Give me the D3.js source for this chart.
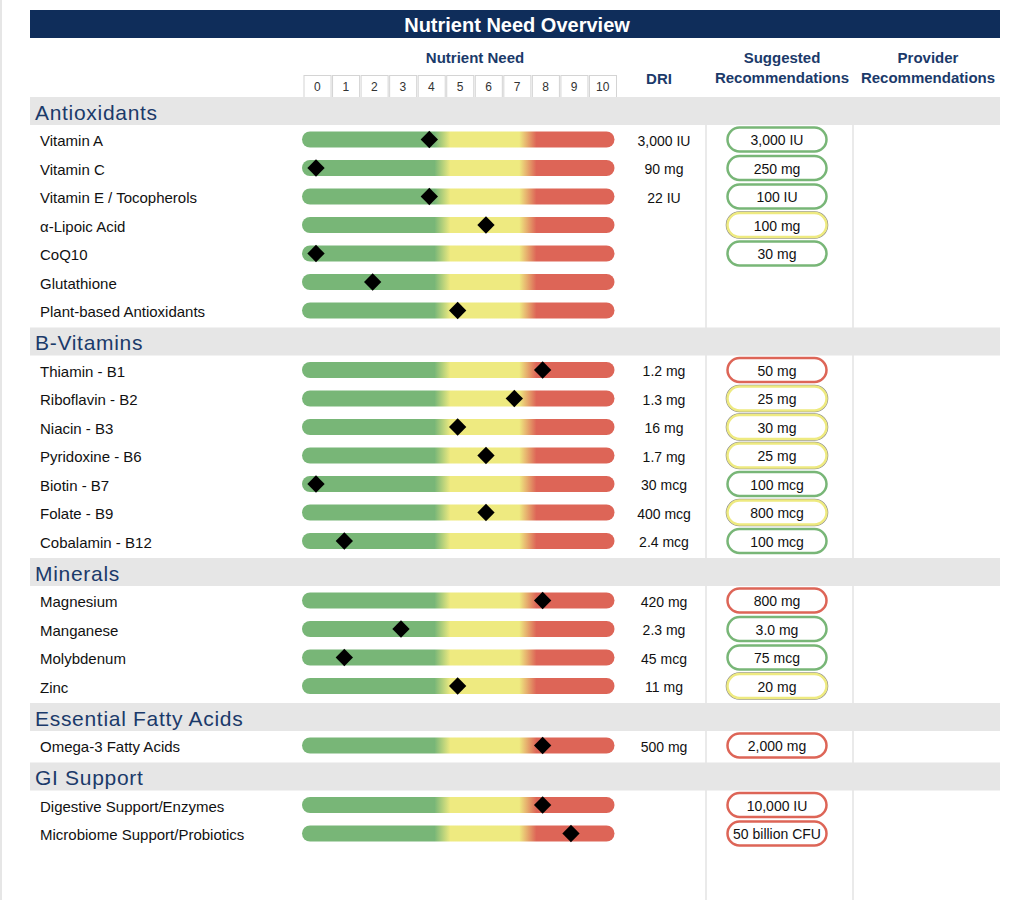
<!DOCTYPE html>
<html>
<head>
<meta charset="utf-8">
<script src="https://cdn.jsdelivr.net/npm/d3@7"></script>
<style>
  body { margin: 0; background: #fff; }
  text { font-family: Helvetica, Arial, "Liberation Sans", sans-serif; }
</style>
</head>
<body>
<div id="chart"></div>
<script>
// ---- data ----
var sections = ["Antioxidants", "B-Vitamins", "Minerals", "Essential Fatty Acids", "GI Support"];
var sectionCounts = [7, 7, 4, 1, 2];

var nutrients = [
  "Vitamin A", "Vitamin C", "Vitamin E / Tocopherols", "\u03b1-Lipoic Acid", "CoQ10", "Glutathione", "Plant-based Antioxidants",
  "Thiamin - B1", "Riboflavin - B2", "Niacin - B3", "Pyridoxine - B6", "Biotin - B7", "Folate - B9", "Cobalamin - B12",
  "Magnesium", "Manganese", "Molybdenum", "Zinc",
  "Omega-3 Fatty Acids",
  "Digestive Support/Enzymes", "Microbiome Support/Probiotics"
];
var needs = [4, 0, 4, 6, 0, 2, 5,
             8, 7, 5, 6, 0, 6, 1,
             8, 3, 1, 5,
             8,
             8, 9];
var dri = ["3,000 IU", "90 mg", "22 IU", "", "", "", "",
           "1.2 mg", "1.3 mg", "16 mg", "1.7 mg", "30 mcg", "400 mcg", "2.4 mcg",
           "420 mg", "2.3 mg", "45 mcg", "11 mg",
           "500 mg",
           "", ""];
var suggested = ["3,000 IU", "250 mg", "100 IU", "100 mg", "30 mg", "", "",
                 "50 mg", "25 mg", "30 mg", "25 mg", "100 mcg", "800 mcg", "100 mcg",
                 "800 mg", "3.0 mg", "75 mcg", "20 mg",
                 "2,000 mg",
                 "10,000 IU", "50 billion CFU"];
var scaleTicks = d3.range(0, 11);

// ---- layout ----
var W = 1024, H = 900;
var navy = "#0f2d5a", headNavy = "#1b3a6a", band = "#e6e6e6";
var green = "#78b677", yellow = "#eeea80", red = "#dd6557";

var svg = d3.select("#chart").append("svg")
  .attr("width", W).attr("height", H);

// left page edge
svg.append("line").attr("x1", 1).attr("x2", 1).attr("y1", 0).attr("y2", H)
  .attr("stroke", "#dedede").attr("stroke-width", 1.5);

// title bar
svg.append("rect").attr("x", 30).attr("y", 10).attr("width", 970).attr("height", 28).attr("fill", navy);
svg.append("text").attr("x", 517).attr("y", 25).attr("text-anchor", "middle")
  .attr("dominant-baseline", "central").attr("fill", "#fff")
  .attr("font-size", 20).attr("font-weight", "bold").text("Nutrient Need Overview");

// column headers
function header(x, y, t) {
  svg.append("text").attr("x", x).attr("y", y).attr("text-anchor", "middle")
    .attr("dominant-baseline", "central").attr("fill", headNavy)
    .attr("font-size", 15).attr("font-weight", "bold").text(t);
}
header(475, 57, "Nutrient Need");
header(659, 78, "DRI");
header(782, 57, "Suggested");
header(782, 77, "Recommendations");
header(928, 57, "Provider");
header(928, 77, "Recommendations");

// scale cells
var cellX = d3.scaleBand().domain(scaleTicks).range([303, 617]);
var cells = svg.append("g").selectAll("g").data(scaleTicks).enter().append("g");
cells.append("rect")
  .attr("x", function (d) { return cellX(d) + 1; })
  .attr("y", 75.5)
  .attr("width", cellX.bandwidth() - 1.5)
  .attr("height", 22)
  .attr("fill", "#fff").attr("stroke", "#d4d4d4").attr("stroke-width", 1);
cells.append("text")
  .attr("x", function (d) { return cellX(d) + cellX.bandwidth() / 2; })
  .attr("y", 87).attr("text-anchor", "middle").attr("dominant-baseline", "central")
  .attr("font-size", 12).attr("fill", "#333")
  .text(function (d) { return d; });

// vertical column dividers
[706, 853].forEach(function (x) {
  svg.append("line").attr("x1", x).attr("x2", x).attr("y1", 125).attr("y2", H)
    .attr("stroke", "#e3e3e3").attr("stroke-width", 1.5);
});

// compute row positions
var bandH = 28, padTop = 14.5, padBottom = 17, step = 28.5;
var bandTops = [], rowY = [];
var y = 97, idx = 0;
sectionCounts.forEach(function (n) {
  bandTops.push(y);
  for (var i = 0; i < n; i++) {
    rowY[idx++] = y + bandH + padTop + i * step;
  }
  y = y + bandH + padTop + (n - 1) * step + padBottom;
});

// section bands
var bands = svg.append("g").selectAll("g").data(sections).enter().append("g");
bands.append("rect")
  .attr("x", 30).attr("width", 970).attr("height", bandH)
  .attr("y", function (d, i) { return bandTops[i]; })
  .attr("fill", band);
bands.append("text")
  .attr("x", 35)
  .attr("y", function (d, i) { return bandTops[i] + bandH / 2 + 1; })
  .attr("dominant-baseline", "central")
  .attr("font-size", 21).attr("letter-spacing", 0.7).attr("fill", headNavy)
  .text(function (d) { return d; });

// gradient for the need bars
var barX0 = 302, barX1 = 614.5;
var grad = svg.append("defs").append("linearGradient")
  .attr("id", "needGrad").attr("gradientUnits", "userSpaceOnUse")
  .attr("x1", barX0).attr("x2", barX1).attr("y1", 0).attr("y2", 0);
[[0, green], [0.424, green], [0.475, yellow], [0.695, yellow], [0.75, red], [1, red]]
  .forEach(function (s) {
    grad.append("stop").attr("offset", s[0]).attr("stop-color", s[1]);
  });

var x = d3.scaleLinear().domain([0, 10]).range([316, 599.3]);
var pillColor = d3.scaleThreshold().domain([5, 8]).range([green, yellow, red]);

var rows = svg.append("g").selectAll("g").data(nutrients).enter().append("g")
  .attr("transform", function (d, i) { return "translate(0," + rowY[i] + ")"; });

rows.append("text")
  .attr("x", 40).attr("y", 1).attr("dominant-baseline", "central")
  .attr("font-size", 15).attr("fill", "#111")
  .text(function (d) { return d; });

rows.append("rect")
  .attr("x", barX0).attr("y", -8).attr("width", barX1 - barX0).attr("height", 16)
  .attr("rx", 8).attr("fill", "url(#needGrad)");

rows.append("path")
  .attr("d", d3.symbol(d3.symbolSquare, 150))
  .attr("transform", function (d, i) { return "translate(" + x(needs[i]) + ",0) rotate(45)"; })
  .attr("fill", "#000");

rows.append("text")
  .attr("x", 664).attr("y", 1).attr("text-anchor", "middle").attr("dominant-baseline", "central")
  .attr("font-size", 14).attr("fill", "#111")
  .text(function (d, i) { return dri[i]; });

// suggested pills
var pills = rows.filter(function (d, i) { return suggested[i] !== ""; });
pills.filter(function (d) { return pillColor(needs[nutrients.indexOf(d)]) === yellow; })
  .append("rect")
  .attr("x", 726.3).attr("y", -13.2).attr("width", 101.4).attr("height", 26.4).attr("rx", 13.2)
  .attr("fill", "none").attr("stroke", "#8a8a8a").attr("stroke-width", 1.2);
pills.append("rect")
  .attr("x", 727.5).attr("y", -12).attr("width", 99).attr("height", 24).attr("rx", 12)
  .attr("fill", "#fff")
  .attr("stroke", function (d) { return pillColor(needs[nutrients.indexOf(d)]); })
  .attr("stroke-width", 2.5);
pills.append("text")
  .attr("x", 777).attr("y", 0.5).attr("text-anchor", "middle").attr("dominant-baseline", "central")
  .attr("font-size", 14).attr("fill", "#111")
  .text(function (d) { return suggested[nutrients.indexOf(d)]; });
</script>
</body>
</html>
